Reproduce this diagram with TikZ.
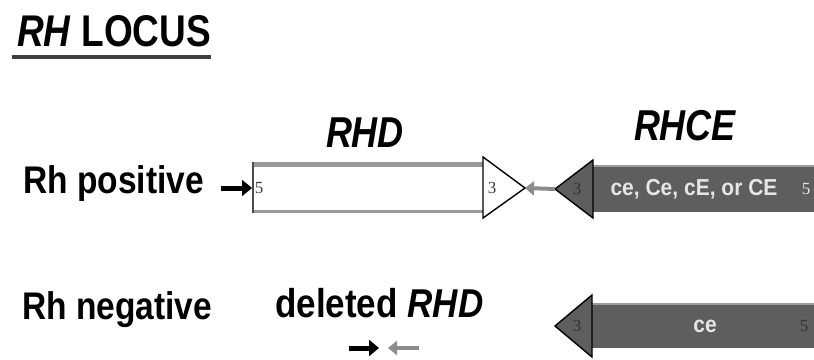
\documentclass[tikz,border=0pt]{standalone}
\usepackage{fontspec}
\setmainfont{Liberation Sans}
\newfontfamily\digitfont{Liberation Serif}
\usetikzlibrary{arrows.meta}
\definecolor{genedark}{HTML}{5E5E5E}
\definecolor{geneedge}{HTML}{9A9A9A}
\definecolor{primergray}{HTML}{8C8C8C}
\definecolor{labelgray}{HTML}{E6E6E6}
% slightly condensed-looking lettering: stretch text vertically
\newcommand{\tallbox}[2][1.15]{\scalebox{1}[#1]{#2}}
\tikzset{
  heading/.style={font=\fontsize{37}{38}\selectfont\bfseries, inner sep=0pt, anchor=base west},
  genename/.style={font=\fontsize{36}{40}\selectfont\bfseries\itshape, inner sep=0pt, anchor=base},
  rowlabel/.style={font=\fontsize{33.5}{36}\selectfont\bfseries, inner sep=0pt, anchor=base west},
  endmark/.style={font=\digitfont\fontsize{17}{18}\selectfont, inner sep=0pt},
  allele/.style={font=\fontsize{21}{24}\selectfont\bfseries, text=labelgray, inner sep=0pt},
  fwdprimer/.style={line width=5pt, -{Triangle[length=10pt,width=16pt]}},
  revprimer/.style={line width=4pt, primergray, -{Triangle[length=9pt,width=14pt]}},
  darkend/.style={fill=genedark, draw=black, line width=1.4pt, line join=miter},
}
\begin{document}
\begin{tikzpicture}[x=1pt,y=-1pt]
\useasboundingbox (0,0) rectangle (814,359);

% heading
\node[heading] (title) at (17,46) {\tallbox[1.2]{\textit{RH} LOCUS}};
\draw[line width=3.5pt, black!75] (12,57) -- (211,57);

% gene names
\node[genename] (rhdname) at (365,147) {\tallbox[1.2]{RHD}};
\node[genename] (rhcename) at (685,140) {\tallbox[1.2]{RHCE}};

% row labels
\node[rowlabel] (pos) at (23,193) {\tallbox{Rh positive}};
\node[rowlabel] (neg) at (22,319) {\tallbox{Rh negative}};
\node[rowlabel, font=\fontsize{35}{38}\selectfont\bfseries] (del) at (275,317) {\tallbox{deleted \textit{RHD}}};

% ---- Rh positive: RHD gene
\fill[white] (252,162) rectangle (483,213);
\draw[geneedge, line width=5pt] (252,164.5) -- (483,164.5);
\draw[geneedge, line width=2.5pt] (252,211.5) -- (483,211.5);
\draw[black!70, line width=1.5pt] (253,162) -- (253,213);
\coordinate (rhdin) at (252,188);
\draw[fill=white, line width=1.4pt, line join=miter] (483,157) -- (525,188) -- (483,218) -- cycle;
\coordinate (rhdtip) at (525,188);
\node[endmark, text=black!75] (rhdfive) at (259,188) {5};
\node[endmark, text=black!75] (rhdthree) at (492,188) {3};

% ---- Rh positive: RHCE gene
\fill[genedark] (593,165) rectangle (815,212);
\draw[geneedge, line width=1.5pt] (593,166) -- (815,166);
\draw[darkend] (593,160) -- (555,189) -- (593,218) -- cycle;
\coordinate (rhcetip) at (555,189);
\node[endmark, text=black!80] (cethree) at (577,189) {3};
\node[allele] (alleles) at (694,189) {\tallbox[1.1]{ce, Ce, cE, or CE}};
\node[endmark, text=labelgray] (cefive) at (806,189) {5};

% primers, Rh positive
\coordinate (fwdstart) at (221,188);
\draw[fwdprimer] (fwdstart) -- (rhdin);
\draw[revprimer] (rhcetip) -- (rhdtip);

% ---- Rh negative: RHCE gene only
\fill[genedark] (592,303) rectangle (815,348);
\draw[geneedge, line width=1.5pt] (592,304) -- (815,304);
\draw[darkend] (592,295) -- (555,326) -- (592,357) -- cycle;
\node[endmark, text=black!80] (negthree) at (577,326) {3};
\node[allele] (negallele) at (705,326) {\tallbox[1.1]{ce}};
\node[endmark, text=black!80] (negfive) at (804,326) {5};

% primers flanking the deletion
\coordinate (delfwdA) at (349,348);
\coordinate (delfwdB) at (379,348);
\coordinate (delrevA) at (419,348);
\coordinate (delrevB) at (388,348);
\draw[fwdprimer] (delfwdA) -- (delfwdB);
\draw[revprimer] (delrevA) -- (delrevB);
\end{tikzpicture}
\end{document}
